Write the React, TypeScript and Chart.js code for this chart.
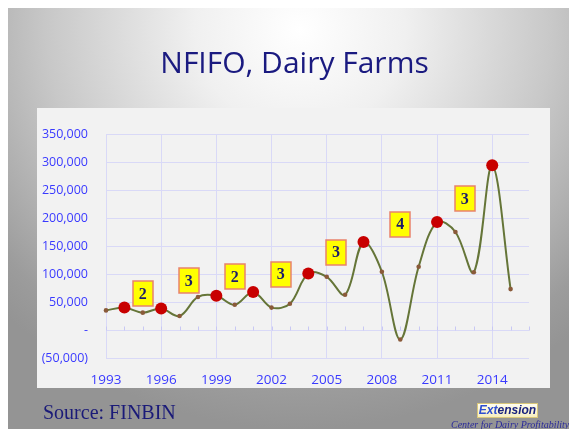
import React, { useEffect, useRef } from "react";
import { Chart, registerables } from "chart.js";

Chart.register(...registerables);

const years = [1993, 1994, 1995, 1996, 1997, 1998, 1999, 2000, 2001, 2002, 2003, 2004, 2005, 2006, 2007, 2008, 2009, 2010, 2011, 2012, 2013, 2014, 2015];
const nfifo = [35000, 40000, 31000, 38500, 25000, 59000, 61000, 45000, 68000, 40000, 47000, 101000, 95000, 63000, 157000, 104000, -17000, 113000, 193000, 175000, 103000, 294000, 73000];
const peakYears = [1994, 1996, 1999, 2001, 2004, 2007, 2011, 2014];
const cycleLabelY = [65000, 88000, 95000, 100000, 139000, 189000, 235000];
const xTickYears = [1993, 1996, 1999, 2002, 2005, 2008, 2011, 2014];
const yMin = -50000;
const yMax = 350000;
const yStep = 50000;
const xMin = 1993;
const xMax = 2016;

const GRID = "#d9d9f7";
const TICK_BLUE = "#3a3aff";

function fmt(v: number): string {
  if (v === 0) return "-";
  if (v < 0) return "(" + Math.abs(v).toLocaleString("en-US") + ")";
  return v.toLocaleString("en-US");
}

const zeroTicksPlugin = {
  id: "zeroTicks",
  beforeDatasetsDraw(chart: any) {
    const { ctx } = chart;
    const xs = chart.scales.x;
    const ys = chart.scales.y;
    const y0 = Math.round(ys.getPixelForValue(0)) + 0.5;
    ctx.save();
    ctx.strokeStyle = "#c8c8f4";
    ctx.lineWidth = 1;
    ctx.beginPath();
    for (let yr = xMin; yr <= xMax; yr++) {
      const px = Math.round(xs.getPixelForValue(yr)) + 0.5;
      ctx.moveTo(px, y0);
      ctx.lineTo(px, y0 - 4);
    }
    ctx.stroke();
    ctx.restore();
  },
};

const cycleBoxPlugin = {
  id: "cycleBoxes",
  afterDatasetsDraw(chart: any) {
    const { ctx } = chart;
    const xs = chart.scales.x;
    const ys = chart.scales.y;
    ctx.save();
    for (let i = 0; i < peakYears.length - 1; i++) {
      const mid = (peakYears[i] + peakYears[i + 1]) / 2;
      const len = peakYears[i + 1] - peakYears[i];
      const cx = xs.getPixelForValue(mid);
      const cy = ys.getPixelForValue(cycleLabelY[i]);
      const w = 20;
      const h = 25;
      ctx.fillStyle = "#ffff00";
      ctx.fillRect(Math.round(cx - w / 2), Math.round(cy - h / 2), w, h);
      ctx.strokeStyle = "#e9826c";
      ctx.lineWidth = 1.5;
      ctx.strokeRect(Math.round(cx - w / 2), Math.round(cy - h / 2), w, h);
      ctx.fillStyle = "#1b1b6b";
      ctx.font = "bold 16px 'Liberation Serif', serif";
      ctx.textAlign = "center";
      ctx.textBaseline = "middle";
      ctx.fillText(String(len), cx, cy + 1);
    }
    ctx.restore();
  },
};

export default function App() {
  const ref = useRef<HTMLCanvasElement | null>(null);

  useEffect(() => {
    const canvas = ref.current;
    if (!canvas) return;
    const chart = new Chart(canvas, {
      type: "line",
      data: {
        datasets: [
          {
            data: years.map((y, i) => ({ x: y, y: nfifo[i] })),
            borderColor: "#657538",
            borderWidth: 2,
            tension: 0.35,
            pointRadius: years.map((y) => (peakYears.includes(y) ? 6 : 2.3)),
            pointHoverRadius: years.map((y) => (peakYears.includes(y) ? 6 : 2.3)),
            pointBackgroundColor: years.map((y) => (peakYears.includes(y) ? "#c80000" : "#8a5a3a")),
            pointBorderColor: years.map((y) => (peakYears.includes(y) ? "#c80000" : "#8a5a3a")),
            pointBorderWidth: 0,
            clip: false as any,
          },
        ],
      },
      options: {
        responsive: false,
        animation: false,
        devicePixelRatio: 1,
        layout: { padding: { top: 26, right: 21, left: 0, bottom: 0 } },
        plugins: {
          legend: { display: false },
          tooltip: { enabled: false },
          title: { display: false },
        },
        scales: {
          x: {
            type: "linear",
            min: xMin,
            max: xMax,
            afterBuildTicks: (s: any) => {
              s.ticks = xTickYears.map((v) => ({ value: v }));
            },
            afterFit: (s: any) => {
              s.height = 30;
            },
            grid: { color: GRID, drawTicks: false, lineWidth: 1 },
            border: { display: false },
            ticks: {
              color: TICK_BLUE,
              font: { family: "'Open Sans', sans-serif", size: 13.5 },
              padding: 14,
              maxRotation: 0,
              callback: (v: any) => String(v),
            },
          },
          y: {
            type: "linear",
            min: yMin,
            max: yMax,
            ticks: {
              stepSize: yStep,
              color: TICK_BLUE,
              font: { family: "'Open Sans', sans-serif", size: 12.5 },
              padding: 18,
              callback: (v: any) => fmt(Number(v)),
            },
            afterFit: (s: any) => {
              s.width = 69;
            },
            grid: { color: GRID, drawTicks: false, lineWidth: 1 },
            border: { display: true, color: GRID },
          },
        },
      },
      plugins: [zeroTicksPlugin, cycleBoxPlugin],
    });
    return () => chart.destroy();
  }, []);

  return (
    <div
      style={{
        position: "fixed",
        left: 8,
        top: 8,
        width: 561,
        height: 421,
        overflow: "hidden",
        background:
          "radial-gradient(ellipse 75% 95% at 52% 5%, #ffffff 0%, #f0f0f0 25%, #c8c8c8 60%, #9c9c9c 90%, #949494 100%)",
      }}
    >
      <div
        style={{
          position: "absolute",
          left: 0,
          right: 0,
          top: 36,
          textAlign: "center",
          paddingLeft: 12,
          fontFamily: "'Open Sans', sans-serif",
          fontSize: 30,
          lineHeight: "36px",
          color: "#1a1a80",
          whiteSpace: "nowrap",
        }}
      >
        NFIFO, Dairy Farms
      </div>
      <div
        style={{
          position: "absolute",
          left: 29,
          top: 100,
          width: 513,
          height: 280,
          background: "#f2f2f2",
        }}
      >
        <canvas ref={ref} width={513} height={280} style={{ display: "block", width: 513, height: 280 }} />
      </div>
      <div
        style={{
          position: "absolute",
          left: 35,
          top: 392,
          fontFamily: "'Liberation Serif', 'Times New Roman', serif",
          fontSize: 20,
          lineHeight: "24px",
          color: "#1a1a78",
          whiteSpace: "nowrap",
        }}
      >
        Source: FINBIN
      </div>
      <div
        style={{
          position: "absolute",
          left: 469,
          top: 395,
          width: 61,
          height: 15,
          background: "linear-gradient(#fffdf0, #f6eec0)",
          border: "1px solid #d9c77a",
          boxSizing: "border-box",
          fontFamily: "'Liberation Sans', sans-serif",
          fontStyle: "italic",
          fontWeight: "bold",
          fontSize: 12,
          lineHeight: "13px",
          textAlign: "center",
          color: "#1a237e",
          whiteSpace: "nowrap",
        }}
      >
        <span style={{ color: "#2f4fd0" }}>Ext</span>ension
      </div>
      <div
        style={{
          position: "absolute",
          left: 443,
          top: 411,
          fontFamily: "'Liberation Serif', serif",
          fontStyle: "italic",
          fontSize: 10,
          lineHeight: "12px",
          color: "#2b2b9a",
          whiteSpace: "nowrap",
        }}
      >
        Center for Dairy Profitability
      </div>
    </div>
  );
}
